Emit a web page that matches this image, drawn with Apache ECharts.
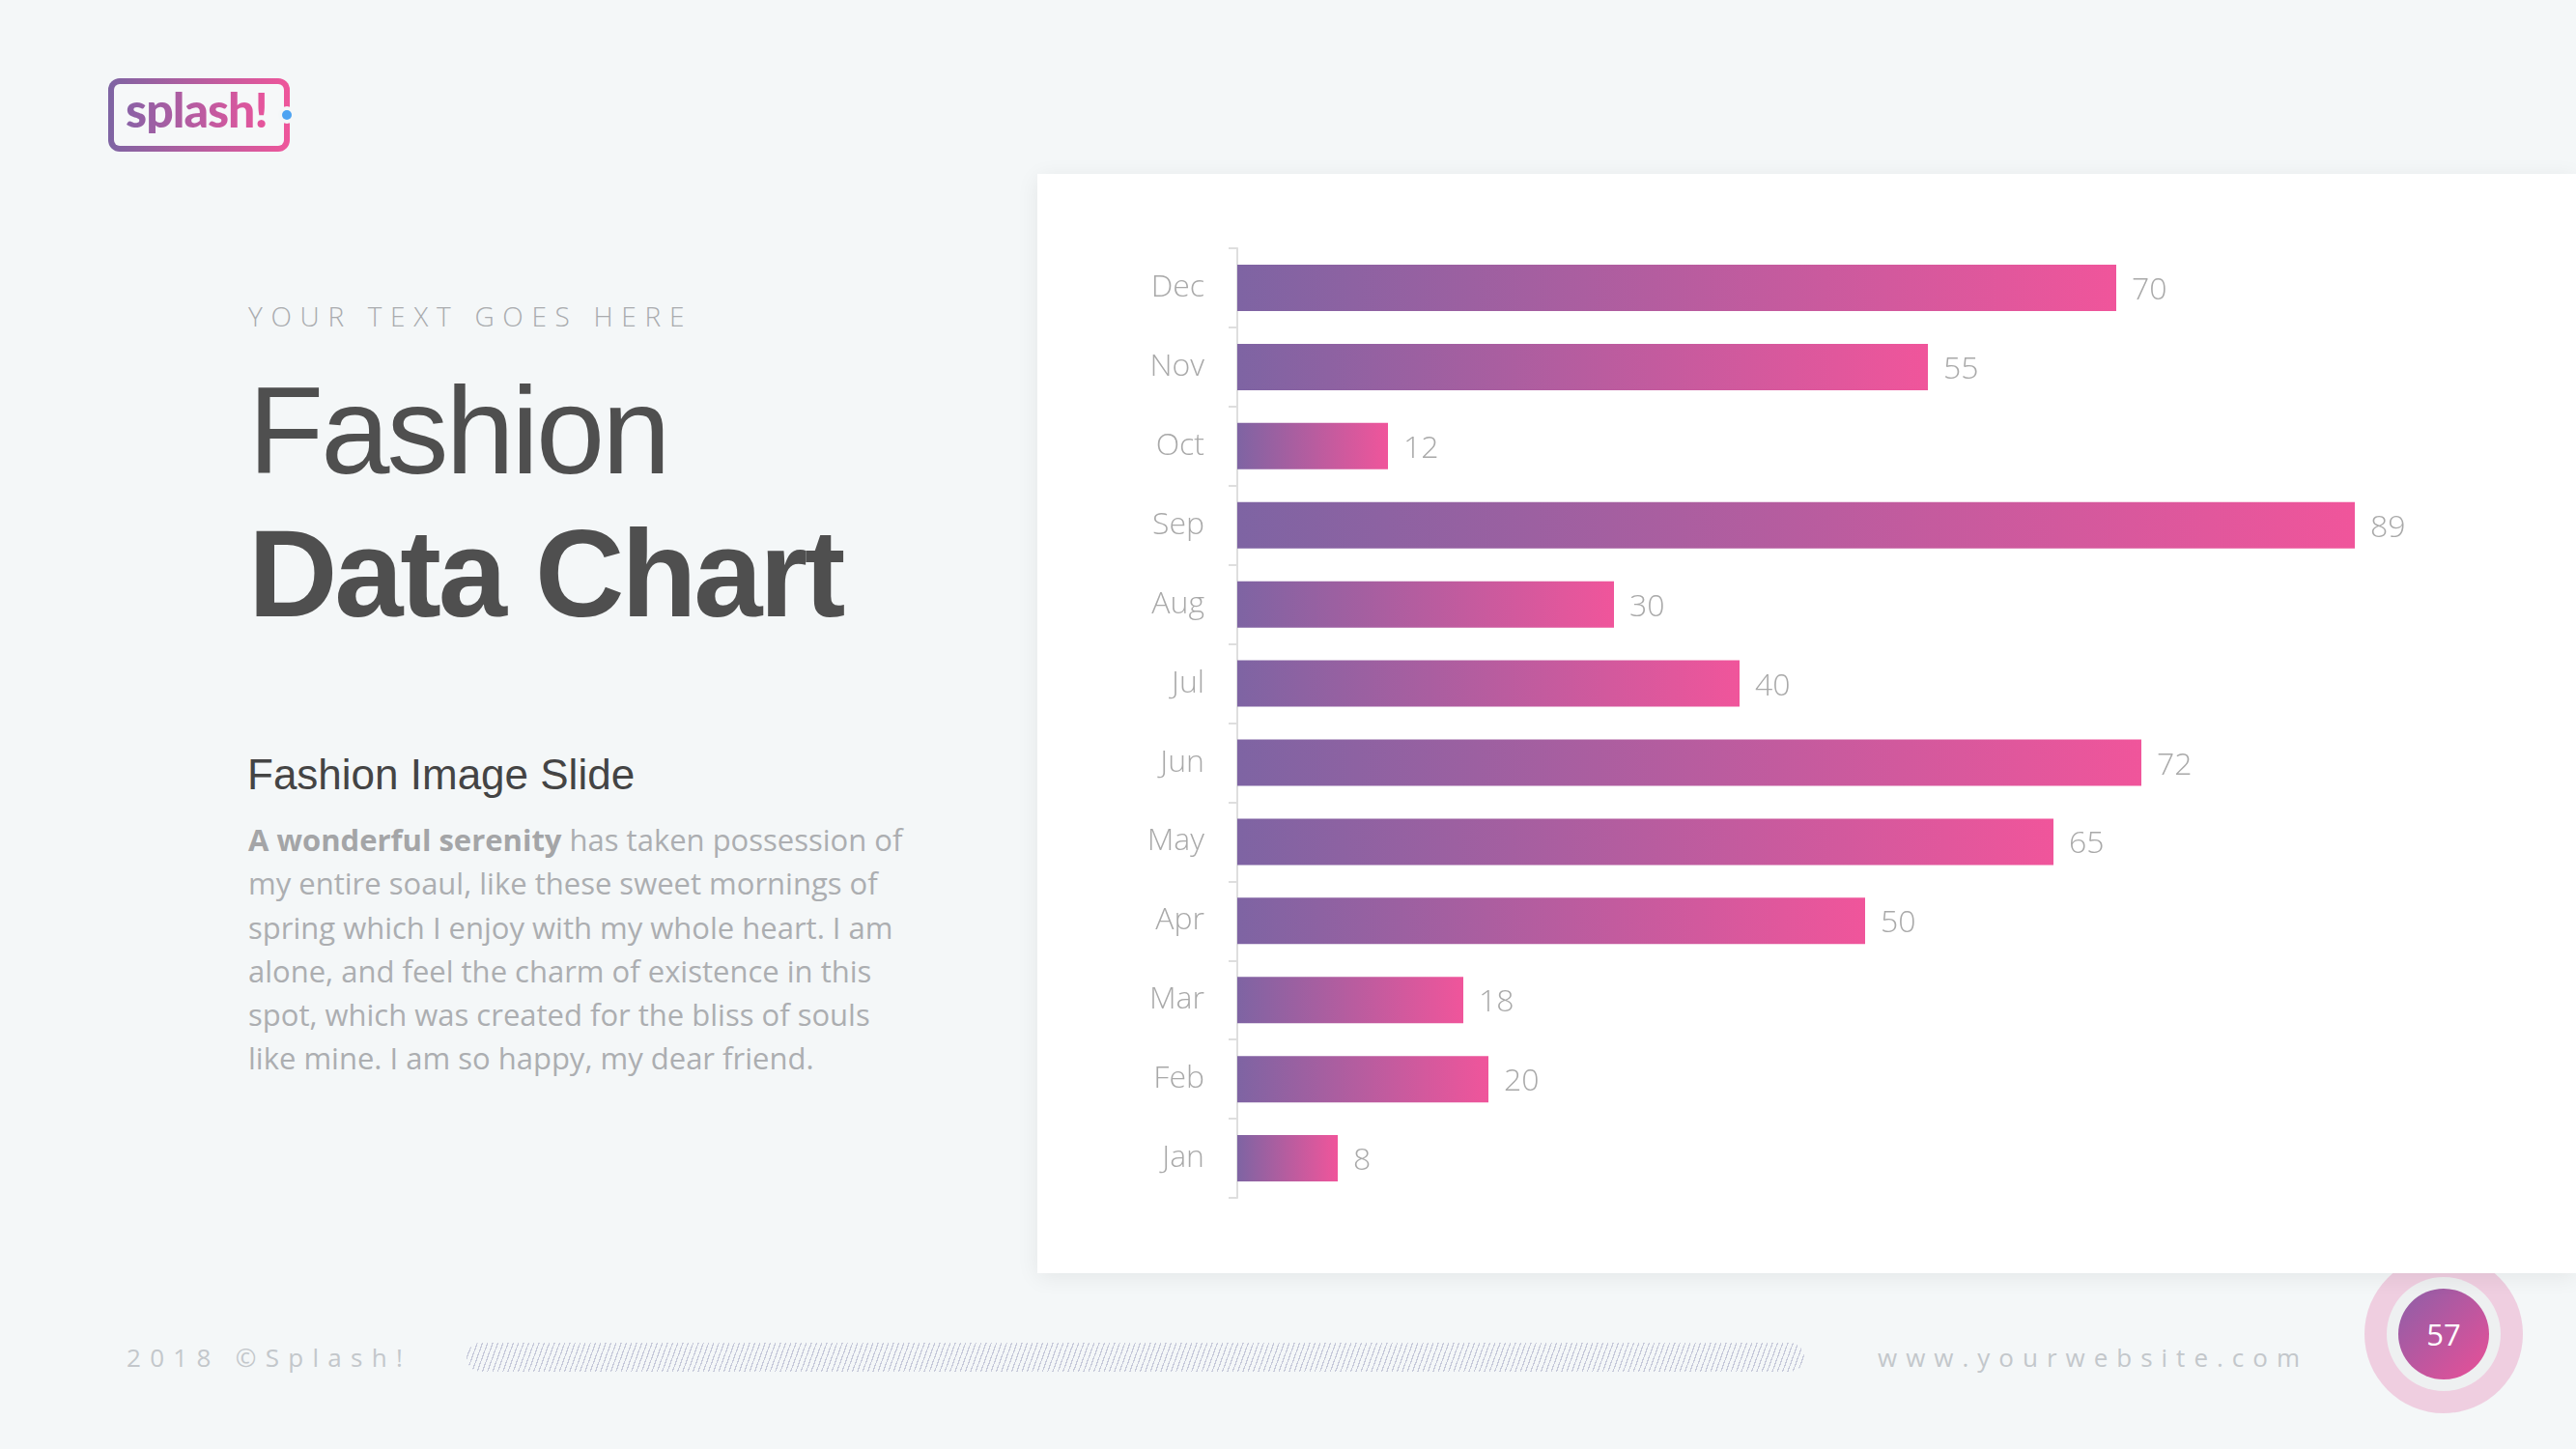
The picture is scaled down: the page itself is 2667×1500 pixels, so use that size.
<!DOCTYPE html>
<html>
<head>
<meta charset="utf-8">
<script src="https://cdn.jsdelivr.net/npm/echarts@6/dist/echarts.min.js"></script>
<style>
  body { margin: 0; width: 2667px; height: 1500px; overflow: hidden; position: relative; background: #f4f7f8; font-family: 'Open Sans', sans-serif; }
  .abs { position: absolute; white-space: nowrap; }
  #logo { left: 112px; top: 81px; width: 176px; height: 64px; border: 6px solid transparent; border-radius: 12px;
    background: linear-gradient(#f6f8f9, #f6f8f9) padding-box, linear-gradient(90deg, #7e64a3, #ef569b) border-box; }
  #logoText { left: 130px; top: 88px; font-family: Lato, sans-serif; font-weight: 900; font-size: 50px; line-height: 50px; letter-spacing: -1px;
    background: linear-gradient(90deg, #8a62a6, #e8559c); -webkit-background-clip: text; background-clip: text; color: transparent; }
  #dotGap { left: 288px; top: 110px; width: 18px; height: 18px; border-radius: 50%; background: #f4f7f8; }
  #dot { left: 292px; top: 114px; width: 10px; height: 10px; border-radius: 50%; background: #4da3f2; }
  #kicker { left: 257px; top: 307px; font-size: 28px; line-height: 40px; letter-spacing: 8.7px; color: #a9abae; font-weight: 300; }
  #title1 { left: 257px; top: 382px; font-family: 'Liberation Sans', Arial, sans-serif; font-size: 128px; line-height: 128px; color: #4f4f4f; letter-spacing: -3px; }
  #title2 { left: 257px; top: 530px; font-family: 'Liberation Sans', Arial, sans-serif; font-weight: bold; font-size: 128px; line-height: 128px; color: #4f4f4f; letter-spacing: -3.2px; }
  #sub { left: 256px; top: 780px; font-family: 'Liberation Sans', Arial, sans-serif; font-size: 44px; line-height: 44px; color: #444; }
  #para { left: 257px; top: 847px; font-size: 31px; line-height: 45.3px; color: #acaeb1; }
  #para b { color: #a4a5a7; }
  #copy { left: 131px; top: 1385px; font-size: 26px; line-height: 40px; letter-spacing: 9.3px; color: #c3c7cb; }
  #hatch { left: 483px; top: 1390px; width: 1385px; height: 30px; border-radius: 15px;
    background: repeating-linear-gradient(110deg, #c6c9da 0 1.2px, rgba(255,255,255,0) 1.2px 5px); }
  #web { left: 1944px; top: 1385px; font-size: 26px; line-height: 40px; letter-spacing: 9px; color: #c3c7cb; }
  #ring { left: 2448px; top: 1299px; width: 164px; height: 164px; border-radius: 50%; background: rgba(232, 150, 190, 0.42); }
  #ringInner { left: 2471px; top: 1322px; width: 118px; height: 118px; border-radius: 50%; background: #eef0f1; }
  #badge { left: 2483px; top: 1334px; width: 94px; height: 94px; border-radius: 50%;
    background: linear-gradient(135deg, #8c5fa8, #ea4f97); color: #fff; font-size: 31px; line-height: 94px; text-align: center; }
  #card { left: 1074px; top: 180px; width: 1593px; height: 1138px; background: #fff; box-shadow: 0 4px 22px rgba(0, 0, 0, 0.07); }
  #chart { left: 1074px; top: 180px; width: 1593px; height: 1138px; }
</style>
</head>
<body>
<div class="abs" id="logo"></div>
<div class="abs" id="logoText">splash!</div>
<div class="abs" id="dotGap"></div>
<div class="abs" id="dot"></div>

<div class="abs" id="kicker">YOUR TEXT GOES HERE</div>
<div class="abs" id="title1">Fashion</div>
<div class="abs" id="title2">Data Chart</div>
<div class="abs" id="sub">Fashion Image Slide</div>
<div class="abs" id="para"><b>A wonderful serenity</b> has taken possession of<br>my entire soaul, like these sweet mornings of<br>spring which I enjoy with my whole heart. I am<br>alone, and feel the charm of existence in this<br>spot, which was created for the bliss of souls<br>like mine. I am so happy, my dear friend.</div>

<div class="abs" id="copy">2018 ©Splash!</div>
<div class="abs" id="hatch"></div>
<div class="abs" id="web">www.yourwebsite.com</div>
<div class="abs" id="ring"></div>
<div class="abs" id="ringInner"></div>
<div class="abs" id="badge">57</div>

<div class="abs" id="card"></div>
<div class="abs" id="chart"></div>

<script>
// 月份 (从下往上)
const months = ['Jan', 'Feb', 'Mar', 'Apr', 'May', 'Jun', 'Jul', 'Aug', 'Sep', 'Oct', 'Nov', 'Dec'];
const values = [8, 20, 18, 50, 65, 72, 40, 30, 89, 12, 55, 70];

let myChart = echarts.init(document.getElementById('chart'));

let labelFont = {
    color: '#a9a9a9',
    fontSize: 32,
    fontFamily: 'Open Sans',
    fontWeight: 300
};

let option = {
    animation: false,
    grid: {
        left: 207,
        top: 77,
        width: 1300,
        height: 983
    },
    xAxis: {
        type: 'value',
        min: 0,
        max: 100,
        show: false
    },
    yAxis: {
        type: 'category',
        data: months,
        axisLine: {
            show: true,
            lineStyle: { color: '#dedede', width: 2 }
        },
        // 刻度在每格边界
        axisTick: {
            show: true,
            alignWithLabel: false,
            length: 9,
            lineStyle: { color: '#dedede', width: 2 }
        },
        axisLabel: Object.assign({ margin: 34, padding: [6, 0, 0, 0] }, labelFont)
    },
    series: [
        {
            type: 'bar',
            data: values,
            barWidth: 48,
            // 每根柱子自身的渐变
            itemStyle: {
                color: new echarts.graphic.LinearGradient(0, 0, 1, 0, [
                    { offset: 0, color: '#7e64a3' },
                    { offset: 1, color: '#f0559b' }
                ])
            },
            label: Object.assign({
                show: true,
                position: 'right',
                distance: 16,
                offset: [0, 3]
            }, labelFont)
        }
    ]
};

myChart.setOption(option);
</script>
</body>
</html>
